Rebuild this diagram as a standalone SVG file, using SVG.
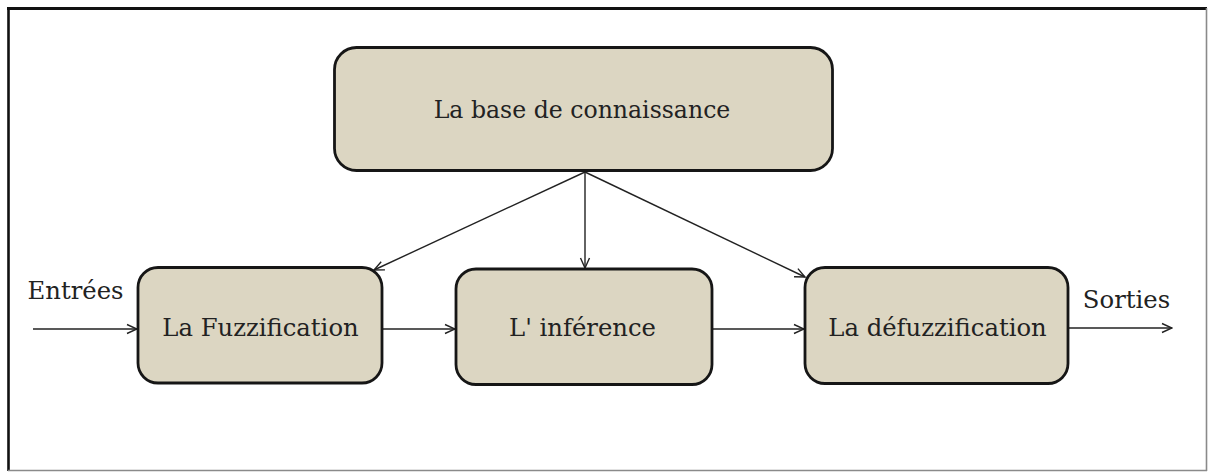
<svg xmlns="http://www.w3.org/2000/svg" width="1209" height="472" viewBox="0 0 1209 472">
  <defs>
    <style>
      .box { fill: #dcd6c2; stroke: #161616; stroke-width: 2.8; }
      .lbl { font-family: "DejaVu Serif", "Liberation Serif", serif; font-size: 24.3px; fill: #222; text-anchor: middle; }
      .top { font-size: 23.6px; }
      .io { font-family: "DejaVu Serif", "Liberation Serif", serif; font-size: 24.3px; fill: #222; text-anchor: middle; }
      .wire { stroke: #222; stroke-width: 1.4; fill: none; marker-end: url(#tip); }
    </style>
    <marker id="tip" viewBox="0 0 12 12" refX="11" refY="6" markerWidth="12" markerHeight="12" markerUnits="userSpaceOnUse" orient="auto">
      <path d="M1,1.5 L11,6 L1,10.5" fill="none" stroke="#222" stroke-width="1.4"/>
    </marker>
  </defs>

  <!-- frame -->
  <rect x="0" y="0" width="1209" height="472" fill="#ffffff"/>
  <line x1="7" y1="8.5" x2="1207" y2="8.5" stroke="#111" stroke-width="3"/>
  <line x1="8.5" y1="7" x2="8.5" y2="471" stroke="#111" stroke-width="2.6"/>
  <line x1="1206.5" y1="8" x2="1206.5" y2="471" stroke="#8a8a8a" stroke-width="1.6"/>
  <line x1="8" y1="470.5" x2="1207" y2="470.5" stroke="#8a8a8a" stroke-width="1.6"/>

  <g id="connectors">
    <line class="wire" x1="585" y1="172" x2="374" y2="270"/>
    <line class="wire" x1="585" y1="172" x2="585" y2="268"/>
    <line class="wire" x1="585" y1="172" x2="805" y2="277"/>
    <line class="wire" x1="33" y1="329" x2="137" y2="329"/>
    <line class="wire" x1="382" y1="329" x2="455" y2="329"/>
    <line class="wire" x1="712" y1="329" x2="804" y2="329"/>
    <line class="wire" x1="1068" y1="328" x2="1172" y2="328"/>
  </g>

  <g id="knowledge-base">
    <rect class="box" x="334.5" y="47.5" width="498" height="123" rx="22"/>
    <text class="lbl top" x="582" y="118">La base de connaissance</text>
  </g>

  <g id="fuzzification">
    <rect class="box" x="138" y="267.5" width="244" height="115.5" rx="20"/>
    <text class="lbl" x="260.5" y="336">La Fuzzification</text>
  </g>

  <g id="inference">
    <rect class="box" x="456" y="269" width="256" height="115.5" rx="20"/>
    <text class="lbl" x="582.5" y="336">L' inférence</text>
  </g>

  <g id="defuzzification">
    <rect class="box" x="805" y="267.5" width="263" height="116" rx="20"/>
    <text class="lbl" x="937.5" y="336">La défuzzification</text>
  </g>

  <g id="inputs">
    <text class="io" x="75.5" y="299">Entrées</text>
  </g>

  <g id="outputs">
    <text class="io" x="1126.5" y="308">Sorties</text>
  </g>
</svg>
